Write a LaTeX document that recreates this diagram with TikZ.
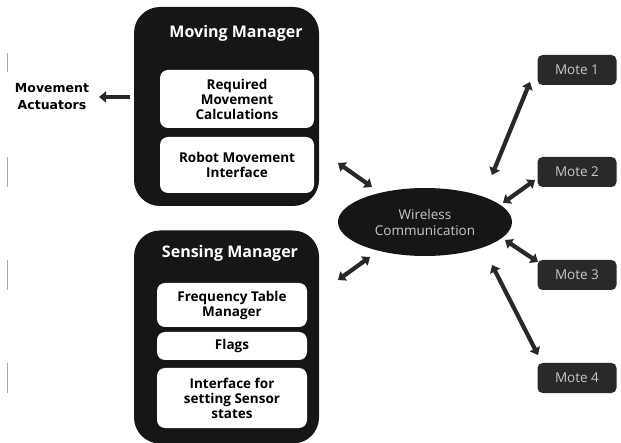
\documentclass[tikz,border=0pt]{standalone}
\usepackage{fontspec}
\setmainfont{Open Sans}
\newfontfamily\actfont{DejaVu Sans}
\usetikzlibrary{arrows.meta,shapes.geometric}
\definecolor{darkbox}{RGB}{22,22,22}
\definecolor{arrowc}{RGB}{40,40,40}
\definecolor{lighttext}{RGB}{200,200,200}
\tikzset{
  manager/.style={fill=darkbox, rounded corners=26pt, inner sep=0pt},
  title/.style={text=white, font=\bfseries\fontsize{16}{18}\selectfont, inner sep=0pt},
  inner/.style={fill=white, rounded corners=8pt, inner sep=0pt, align=center,
    text=black, font=\bfseries\fontsize{13.5}{15}\selectfont},
  mote/.style={fill=darkbox!92!white, rounded corners=5pt, minimum width=79pt, minimum height=30pt,
    inner sep=0pt, text=lighttext, font=\fontsize{13.5}{15}\selectfont},
  dbl/.style={arrowc, line width=4.2pt, {Triangle[width=11pt,length=7pt]}-{Triangle[width=11pt,length=7pt]}},
  sgl/.style={arrowc, line width=4.2pt, -{Triangle[width=11pt,length=7pt]}},
  scanline/.style={gray!70, line width=0.9pt}
}
\begin{document}
\begin{tikzpicture}[x=1pt,y=-1pt]
\useasboundingbox (0,0) rectangle (621,443);
% scan marks at left
\draw[scanline] (7,53) -- (7,72);
\draw[scanline] (7,157) -- (7,187);
\draw[scanline] (7,260) -- (7,290);
\draw[scanline] (7,363) -- (7,393);

% Moving manager
\node[manager, minimum width=185pt, minimum height=199pt] (mm) at (226.5,106.5) {};
\node[title] (mmt) at (236,33) {Moving Manager};
\node[inner, minimum width=154pt, minimum height=58pt] (rmc) at (237,99) {Required\\Movement\\Calculations};
\node[inner, minimum width=154pt, minimum height=56pt] (rmi) at (237,165) {Robot Movement\\Interface};

% Movement actuators
\node[align=center, font=\actfont\bfseries\fontsize{12.5}{17}\selectfont, inner sep=0pt] (act) at (52,97) {Movement\\Actuators};
\coordinate (acttail) at (130,97);
\coordinate (acttip) at (99,97);
\draw[sgl] (acttail) -- (acttip);

% Sensing manager
\node[manager, minimum width=185pt, minimum height=213pt] (sm) at (226.5,337) {};
\node[title] (smt) at (230,253) {Sensing Manager};
\node[inner, minimum width=150pt, minimum height=44pt] (ftm) at (232,305) {Frequency Table\\Manager};
\node[inner, minimum width=150pt, minimum height=28pt] (flags) at (232,346) {Flags};
\node[inner, minimum width=150pt, minimum height=60pt] (isss) at (232,398) {Interface for\\setting Sensor\\states};

% Wireless communication
\node[ellipse, fill=darkbox, minimum width=174pt, minimum height=68pt, inner sep=0pt,
  align=center, text=lighttext, font=\fontsize{13.5}{16}\selectfont] (wc) at (425,222) {Wireless\\Communication};

% Motes
\node[mote] (m1) at (577,70) {Mote 1};
\node[mote] (m2) at (577,172) {Mote 2};
\node[mote] (m3) at (577,275) {Mote 3};
\node[mote] (m4) at (577,378) {Mote 4};

% arrow end points
\coordinate (mmA) at (338,163);
\coordinate (wcA) at (372,187);
\coordinate (wcB) at (370,257);
\coordinate (smB) at (338,280);
\coordinate (m1A) at (530,82);
\coordinate (wc1) at (492,175);
\coordinate (m2A) at (535,180);
\coordinate (wc2) at (503,203);
\coordinate (wc3) at (505,240);
\coordinate (m3A) at (538,262);
\coordinate (wc4) at (492,265);
\coordinate (m4A) at (538,355);

\draw[dbl] (mmA) -- (wcA);
\draw[dbl] (wcB) -- (smB);
\draw[dbl] (m1A) -- (wc1);
\draw[dbl] (m2A) -- (wc2);
\draw[dbl] (wc3) -- (m3A);
\draw[dbl] (wc4) -- (m4A);
\end{tikzpicture}
\end{document}
